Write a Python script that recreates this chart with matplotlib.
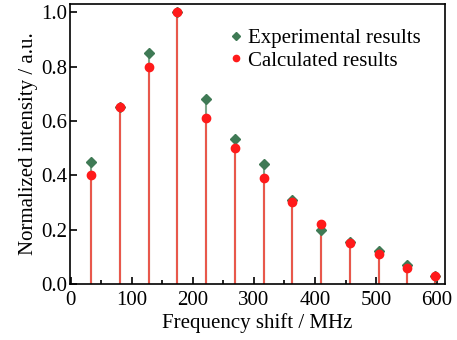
import matplotlib
matplotlib.use("Agg")
import matplotlib.pyplot as plt
from matplotlib.ticker import MultipleLocator

plt.rcParams['font.family'] = ['Liberation Serif', 'DejaVu Serif']

freq = [34, 81, 128, 175, 222, 269, 316, 363, 410, 457, 504, 551, 596]
exp_vals = [0.45, 0.65, 0.85, 1.0, 0.68, 0.535, 0.44, 0.31, 0.20, 0.155, 0.12, 0.07, 0.03]
calc_vals = [0.40, 0.65, 0.80, 1.0, 0.61, 0.50, 0.39, 0.30, 0.22, 0.15, 0.11, 0.06, 0.03]

fig = plt.figure(figsize=(4.57, 3.4), dpi=100)
ax = fig.add_axes([0.153, 0.165, 0.821, 0.823])

# stems
ax.vlines(freq, 0, exp_vals, color="#7fa58a", lw=1.5, zorder=1)
ax.vlines(freq, 0, calc_vals, color="#e8584c", lw=1.5, zorder=2)

ax.plot(freq, exp_vals, ls="none", marker="D", ms=5.5, color="#3f7a55",
        label="Experimental results", zorder=3)
ax.plot(freq, calc_vals, ls="none", marker="o", ms=6, color="#ff1a1a",
        label="Calculated results", zorder=4)

ax.set_xlim(-1, 613)
ax.set_ylim(0, 1.03)
ax.xaxis.set_major_locator(MultipleLocator(100))
ax.xaxis.set_minor_locator(MultipleLocator(50))
ax.yaxis.set_major_locator(MultipleLocator(0.2))
ax.yaxis.set_major_formatter(plt.FormatStrFormatter("%.1f"))
ax.tick_params(which="both", direction="in", labelsize=15, width=1.2, pad=2)
ax.tick_params(axis="x", which="both", pad=5)
ax.tick_params(which="major", length=5)
ax.tick_params(which="minor", length=3)
for s in ax.spines.values():
    s.set_linewidth(1.2)

ax.set_xlabel("Frequency shift / MHz", fontsize=15, labelpad=2)
ax.set_ylabel("Normalized intensity / a.u.", fontsize=15, labelpad=2)

ax.legend(loc="upper right", bbox_to_anchor=(0.975, 0.965), frameon=False,
          fontsize=15, handletextpad=0.1, borderpad=0.2, labelspacing=0.15,
          handlelength=1.0, markerscale=0.75)

fig.savefig("out.png", dpi=100)
